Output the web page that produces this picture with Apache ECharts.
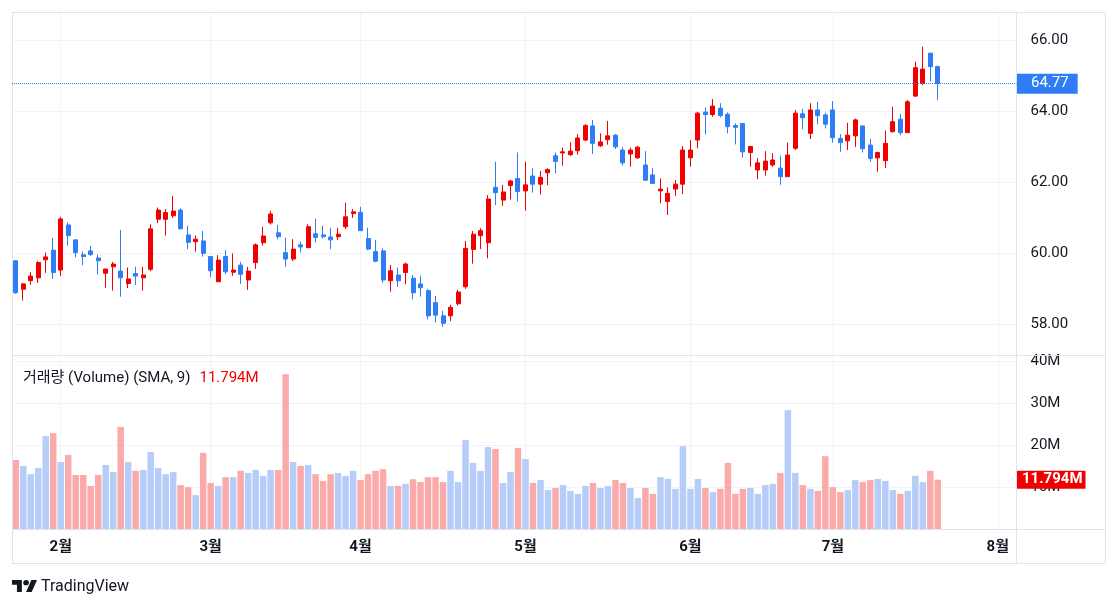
<!DOCTYPE html>
<html><head><meta charset="utf-8">
<script src="https://cdn.jsdelivr.net/npm/echarts@6/dist/echarts.min.js"></script>
<style>html,body{margin:0;padding:0;background:#fff;}#c{width:1118px;height:609px;}</style>
</head><body><div id="c"></div>
<script>
// Trading days (2024), month -> days
const monthDays = [
  ['2024-01', [24,25,26,29,30,31]],
  ['2024-02', [1,2,5,6,7,8,9,12,13,14,15,16,20,21,22,23,26,27,28,29]],
  ['2024-03', [1,4,5,6,7,8,11,12,13,14,15,18,19,20,21,22,25,26,27,28]],
  ['2024-04', [1,2,3,4,5,8,9,10,11,12,15,16,17,18,19,22,23,24,25,26,29,30]],
  ['2024-05', [1,2,3,6,7,8,9,10,13,14,15,16,17,20,21,22,23,24,28,29,30,31]],
  ['2024-06', [3,4,5,6,7,10,11,12,13,14,17,18,20,21,24,25,26,27,28]],
  ['2024-07', [1,2,3,5,8,9,10,11,12,15,16,17,18,19,22,23,24,25,26,29,30,31]],
  ['2024-08', [1,2,5]]
];
const dates = monthDays.flatMap(([m, ds]) => ds.map(d => m + '-' + String(d).padStart(2, '0')));

const opens = [59.78,58.98,59.22,59.30,59.81,60.08,59.52,60.79,60.37,59.95,60.06,59.86,59.43,59.61,59.49,59.14,59.42,59.30,59.54,60.95,
60.95,61.05,61.21,60.51,60.32,60.34,59.90,59.19,59.90,59.46,59.66,59.24,59.73,60.29,60.85,60.57,60.01,59.83,60.23,60.15,
60.54,60.51,60.45,60.46,60.74,61.11,61.15,60.41,60.04,60.06,59.22,59.38,59.45,59.29,59.13,58.94,58.60,58.23,58.23,58.57,
59.05,60.10,60.49,60.29,61.85,61.49,61.90,62.10,61.75,62.17,61.94,62.26,62.74,62.82,62.77,62.88,63.18,63.58,63.02,63.19,
63.32,62.90,62.79,62.68,62.48,62.20,61.75,61.45,61.80,61.94,62.68,63.18,63.97,63.90,64.08,63.91,63.59,63.65,62.83,62.34,
62.34,62.48,62.39,62.15,62.95,63.92,63.37,64.03,63.89,64.03,63.23,63.16,63.30,63.58,63.04,62.68,62.60,63.42,63.77,63.39,
64.42,64.78,65.63,65.25];
const closes = [58.88,59.13,59.35,59.73,59.89,59.45,60.96,60.49,60.01,59.90,59.96,59.78,59.55,59.69,59.30,59.27,59.35,59.38,60.68,61.21,
61.14,61.18,60.68,60.30,60.39,59.99,59.50,59.80,59.47,59.52,59.40,59.49,60.23,60.48,61.10,60.46,59.83,60.11,60.17,60.74,
60.44,60.46,60.37,60.53,61.02,61.16,60.63,60.11,59.77,59.24,59.50,59.22,59.69,58.88,59.02,58.23,58.25,58.02,58.47,58.90,
60.13,60.53,60.63,61.52,61.70,61.72,62.03,61.73,61.92,61.94,62.13,62.35,62.58,62.85,62.87,63.24,63.59,63.09,63.13,63.30,
62.99,62.54,62.90,62.98,62.05,61.96,61.80,61.68,61.94,62.90,62.90,63.94,63.90,64.14,63.87,63.56,63.54,62.85,63.00,62.54,
62.59,62.62,62.15,62.76,63.94,63.81,64.03,63.87,63.63,63.25,63.11,63.32,63.75,62.94,62.66,62.83,63.09,63.70,63.39,64.26,
65.22,65.18,65.25,64.77];
const lows = [58.85,58.66,59.10,59.16,59.44,59.27,59.35,60.21,59.88,59.66,59.92,59.40,59.02,58.94,58.77,59.01,59.10,58.94,59.49,60.84,
60.49,60.99,60.67,60.11,60.04,59.90,59.32,59.19,59.41,59.36,59.13,58.96,59.55,60.21,60.80,60.39,59.61,59.77,60.02,60.15,
60.30,60.41,60.11,60.37,60.67,60.99,60.63,60.08,59.74,59.16,58.91,59.05,59.12,58.70,58.77,58.13,58.04,57.92,58.08,58.52,
58.99,59.70,60.11,59.85,61.35,61.33,61.51,61.45,61.19,61.70,61.65,61.91,62.25,62.46,62.73,62.77,63.15,62.79,62.99,63.05,
62.93,62.46,62.43,62.65,62.03,61.94,61.40,61.07,61.61,61.66,62.43,62.95,63.34,63.84,63.82,63.37,63.06,62.68,62.43,62.08,
62.18,62.43,61.92,62.15,62.90,63.49,63.21,63.63,63.51,63.11,62.85,62.90,62.99,62.83,62.57,62.29,62.39,63.39,63.32,63.39,
64.39,64.73,64.83,64.31];
const highs = [59.80,59.16,59.46,59.77,60.01,60.43,61.02,60.86,60.37,60.04,60.20,59.96,59.55,59.75,60.65,59.59,59.61,59.61,60.81,61.28,
61.24,61.61,61.26,60.77,60.49,60.62,59.90,59.94,60.08,59.99,59.75,59.61,60.27,60.74,61.19,60.79,60.43,60.39,60.32,60.81,
60.96,60.77,60.71,60.71,61.42,61.24,61.30,60.71,60.37,60.13,59.66,59.59,59.73,59.38,59.36,58.99,58.79,58.37,58.54,58.96,
60.34,60.62,60.70,61.63,62.57,61.92,62.06,62.83,62.57,62.39,62.31,62.39,62.83,62.97,63.12,63.35,63.63,63.75,63.37,63.72,
63.35,62.98,62.97,63.02,62.87,62.39,62.10,61.85,62.06,63.01,63.18,63.98,64.10,64.34,64.22,63.96,63.65,63.65,63.02,62.67,
62.87,62.81,62.74,63.11,64.03,64.06,64.22,64.26,63.95,64.28,63.35,63.67,63.79,63.58,63.21,62.85,63.45,64.12,63.92,64.31,
65.39,65.81,65.63,65.28];
// Volume in millions
const volumes = [16.5,15.05,13.1,14.6,22.2,22.9,16.0,17.7,12.9,12.9,10.3,12.9,15.3,13.6,24.4,16.0,13.9,14.1,18.4,14.6,
13.1,13.6,10.5,10.0,8.1,18.2,11.0,10.3,12.4,12.4,13.9,13.4,14.1,12.7,14.1,14.1,37.0,16.0,15.05,15.3,
13.1,11.5,13.1,13.4,12.7,13.9,11.7,13.1,13.9,14.3,10.3,10.3,10.8,11.9,11.2,12.4,12.4,11.2,13.9,11.2,
21.3,15.8,13.9,19.6,19.1,11.0,13.6,19.4,16.7,11.0,11.7,9.3,9.8,10.5,9.1,8.4,10.3,11.0,9.8,10.3,
11.7,11.0,9.8,7.4,9.8,8.4,12.4,11.95,9.6,19.8,9.6,11.95,9.8,8.8,9.6,15.8,8.4,9.6,9.8,8.4,
10.5,10.8,13.4,28.4,13.4,10.5,9.6,9.1,17.4,10.0,8.8,9.3,11.7,11.2,11.7,11.95,11.5,9.3,8.4,9.1,
12.7,11.2,13.9,11.794];

const RED = '#f00000', BLUE = '#2f7df6';
const VOL_UP = '#b5cdf8', VOL_DOWN = '#fbaaaa';
const TEXT = '#131722', GRIDC = '#f0f3fa', BORDER = '#e0e3eb';
const FONT = 'Roboto, "Noto Sans CJK KR", sans-serif';
const FS = 15;

const candleData = opens.map((o, i) => [o, closes[i], lows[i], highs[i]]);
const volData = volumes.map((v, i) => ({
  value: v,
  itemStyle: { color: closes[i] >= opens[i] ? VOL_UP : VOL_DOWN }
}));
const last = closes.length - 1;
const isMonthStart = (i) => i > 0 && dates[i].slice(5, 7) !== dates[i - 1].slice(5, 7);

const chart = echarts.init(document.getElementById('c'), null, { renderer: 'canvas' });
chart.setOption({
  animation: false,
  backgroundColor: '#ffffff',
  textStyle: { fontFamily: FONT },
  title: {
    left: 23, top: 369, padding: 0,
    text: '{a|거래량 (Volume) (SMA, 9)}  {b|' + volumes[last].toFixed(3) + 'M}',
    textStyle: { fontWeight: 'normal', rich: {
      a: { color: TEXT, fontSize: FS, fontFamily: FONT, fontWeight: 'normal' },
      b: { color: RED, fontSize: FS, fontFamily: FONT, fontWeight: 'normal' }
    } }
  },
  grid: [
    { left: 12, top: 12, width: 1004.5, height: 343 },
    { left: 12, top: 355, width: 1004.5, height: 174 }
  ],
  xAxis: [
    { type: 'category', gridIndex: 0, data: dates, boundaryGap: true,
      axisLine: { show: false }, axisTick: { show: false }, axisLabel: { show: false },
      splitLine: { show: true, interval: (i) => isMonthStart(i), alignWithLabel: true, lineStyle: { color: GRIDC } } },
    { type: 'category', gridIndex: 1, data: dates, boundaryGap: true,
      axisLine: { show: false }, axisTick: { show: false },
      axisLabel: { show: true, interval: (i) => isMonthStart(i), formatter: (v) => parseInt(v.slice(5, 7), 10) + '월',
        color: TEXT, fontSize: FS, fontWeight: 'bold', margin: 11, fontFamily: FONT },
      splitLine: { show: true, interval: (i) => isMonthStart(i), alignWithLabel: true, lineStyle: { color: GRIDC } } }
  ],
  yAxis: [
    { type: 'value', gridIndex: 0, position: 'right', min: 57.127, max: 66.789, splitNumber: 5,
      axisLine: { show: false }, axisTick: { show: false },
      axisLabel: { showMinLabel: false, showMaxLabel: false, formatter: (v) => v.toFixed(2),
        color: TEXT, fontSize: FS, margin: 14, fontFamily: FONT },
      splitLine: { lineStyle: { color: GRIDC } } },
    { type: 'value', gridIndex: 1, position: 'right', min: 0, max: 41.58, splitNumber: 5,
      axisLine: { show: false }, axisTick: { show: false },
      axisLabel: { showMinLabel: false, showMaxLabel: false, formatter: (v) => v + 'M',
        color: TEXT, fontSize: FS, margin: 14, fontFamily: FONT },
      splitLine: { lineStyle: { color: GRIDC } } }
  ],
  series: [
    { type: 'candlestick', xAxisIndex: 0, yAxisIndex: 0, data: candleData, barWidth: 4.5,
      itemStyle: { color: RED, color0: BLUE, borderColor: RED, borderColor0: BLUE, borderWidth: 1 },
      markLine: { symbol: 'none', silent: true, animation: false,
        data: [{ yAxis: closes[last] }],
        lineStyle: { color: BLUE, type: 'dotted', width: 1 },
        label: { show: true, position: 'end', distance: 0.5, formatter: () => closes[last].toFixed(2),
          color: '#fff', backgroundColor: BLUE, fontSize: FS, fontFamily: FONT,
          padding: [2, 9, 2, 14], lineHeight: 16 } } },
    { type: 'bar', xAxisIndex: 1, yAxisIndex: 1, data: volData, barWidth: 6.5, silent: true,
      markLine: { symbol: 'none', silent: true, animation: false,
        data: [{ yAxis: volumes[last] }],
        lineStyle: { color: 'rgba(0,0,0,0)', width: 0 },
        label: { show: true, position: 'end', distance: 0.5, formatter: () => volumes[last].toFixed(3) + 'M',
          color: '#fff', backgroundColor: RED, fontSize: FS, fontWeight: 'bold', fontFamily: FONT,
          padding: [1, 3, 1, 5], lineHeight: 16 } } }
  ],
  graphic: [
    { type: 'rect', silent: true, z: 5, shape: { x: 12.5, y: 12.5, width: 1093, height: 551 }, style: { fill: 'none', stroke: BORDER, lineWidth: 1 } },
    { type: 'line', silent: true, z: 5, shape: { x1: 1016.5, y1: 12, x2: 1016.5, y2: 563 }, style: { stroke: BORDER, lineWidth: 1 } },
    { type: 'line', silent: true, z: 5, shape: { x1: 12, y1: 355.5, x2: 1105, y2: 355.5 }, style: { stroke: BORDER, lineWidth: 1 } },
    { type: 'line', silent: true, z: 5, shape: { x1: 12, y1: 529.5, x2: 1105, y2: 529.5 }, style: { stroke: BORDER, lineWidth: 1 } },
    { type: 'group', silent: true, x: 12, y: 577.3, scaleX: 0.704, scaleY: 0.667, children: [
      { type: 'polygon', shape: { points: [[0,4],[14,4],[14,22],[7,22],[7,11],[0,11]] }, style: { fill: TEXT } },
      { type: 'circle', shape: { cx: 20, cy: 8, r: 4 }, style: { fill: TEXT } },
      { type: 'polygon', shape: { points: [[20,22],[27.5,4],[35.5,4],[28,22]] }, style: { fill: TEXT } }
    ] },
    { type: 'text', silent: true, x: 41, y: 587, style: { text: 'TradingView', fill: TEXT, font: '16px Roboto, sans-serif', textVerticalAlign: 'middle' } }
  ]
});
</script>
</body></html>
